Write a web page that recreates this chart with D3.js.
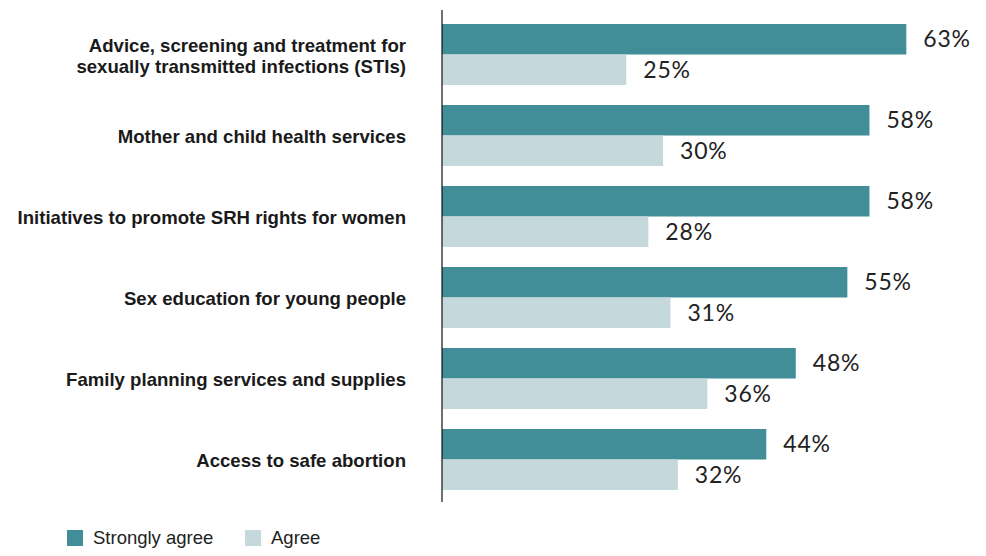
<!DOCTYPE html>
<html>
<head>
<meta charset="utf-8">
<script src="https://cdn.jsdelivr.net/npm/d3@7"></script>
<style>
  body { margin: 0; background: #fff; }
  svg { display: block; }
</style>
</head>
<body>
<div id="chart"></div>
<script>
var categories = [
    "Advice, screening and treatment for\nsexually transmitted infections (STIs)",
    "Mother and child health services",
    "Initiatives to promote SRH rights for women",
    "Sex education for young people",
    "Family planning services and supplies",
    "Access to safe abortion"
];
var seriesNames = ["Strongly agree", "Agree"];
var stronglyAgree = [63, 58, 58, 55, 48, 44];
var agree = [25, 30, 28, 31, 36, 32];
var colors = ["#418e98", "#c5d9dd"];

var width = 986, height = 556;
var axisX = 442;

var rows = categories.map(function (c, i) {
    return { cat: c, values: [stronglyAgree[i], agree[i]] };
});

var svg = d3.select("#chart").append("svg")
    .attr("width", width)
    .attr("height", height);

var x = d3.scaleLinear().domain([0, 100]).range([axisX, axisX + 737]);

var y = d3.scaleBand()
    .domain(categories)
    .range([14, 500])
    .paddingInner(20 / 81)
    .paddingOuter(10 / 81);

var ySub = d3.scaleBand()
    .domain(seriesNames)
    .range([0, y.bandwidth()]);

// bars
var groups = svg.selectAll("g.group")
    .data(rows)
    .enter()
    .append("g")
    .attr("class", "group")
    .attr("transform", function (d) { return "translate(0," + y(d.cat) + ")"; });

groups.selectAll("rect")
    .data(function (d) { return d.values.map(function (v, j) { return { key: seriesNames[j], value: v, idx: j }; }); })
    .enter()
    .append("rect")
    .attr("x", x(0))
    .attr("y", function (d) { return ySub(d.key); })
    .attr("width", function (d) { return x(d.value) - x(0); })
    .attr("height", ySub.bandwidth())
    .style("fill", function (d) { return colors[d.idx]; });

groups.selectAll("text.val")
    .data(function (d) { return d.values.map(function (v, j) { return { key: seriesNames[j], value: v }; }); })
    .enter()
    .append("text")
    .attr("class", "val")
    .attr("x", function (d) { return x(d.value) + 17; })
    .attr("y", function (d) { return ySub(d.key) + ySub.bandwidth() / 2; })
    .attr("dy", "0.34em")
    .style("font-family", "Lato, sans-serif")
    .style("font-size", "23px")
    .style("letter-spacing", "0.8px")
    .style("fill", "#222")
    .text(function (d) { return d.value + "%"; });

// category labels
var labels = svg.selectAll("text.cat")
    .data(categories)
    .enter()
    .append("text")
    .attr("class", "cat")
    .attr("text-anchor", "end")
    .style("font-family", "'Liberation Sans', Arial, sans-serif")
    .style("font-weight", "bold")
    .style("font-size", "18.6px")
    .style("fill", "#1a1a1a");

labels.each(function (d) {
    var lines = d.split("\n");
    var cy = y(d) + y.bandwidth() / 2 + 1;
    var lh = 21;
    var top = cy - (lines.length - 1) * lh / 2;
    d3.select(this).selectAll("tspan")
        .data(lines)
        .enter()
        .append("tspan")
        .attr("x", axisX - 36)
        .attr("y", function (l, k) { return top + k * lh; })
        .attr("dy", "0.35em")
        .text(function (l) { return l; });
});

// axis line
svg.append("line")
    .attr("x1", x(0)).attr("x2", x(0))
    .attr("y1", y.range()[0] - 4)
    .attr("y2", y.range()[1] + 2)
    .style("stroke", "#111")
    .style("stroke-width", 1.2);

// legend
var legend = svg.selectAll("g.legend")
    .data(seriesNames)
    .enter()
    .append("g")
    .attr("class", "legend")
    .attr("transform", function (d, i) { return "translate(" + [67, 245][i] + ",530)"; });

legend.append("rect")
    .attr("width", 16)
    .attr("height", 16)
    .style("fill", function (d, i) { return colors[i]; });

legend.append("text")
    .attr("x", 26)
    .attr("y", 8)
    .attr("dy", "0.35em")
    .style("font-family", "'Liberation Sans', Arial, sans-serif")
    .style("font-size", "18.5px")
    .style("fill", "#222")
    .text(function (d) { return d; });
</script>
</body>
</html>
